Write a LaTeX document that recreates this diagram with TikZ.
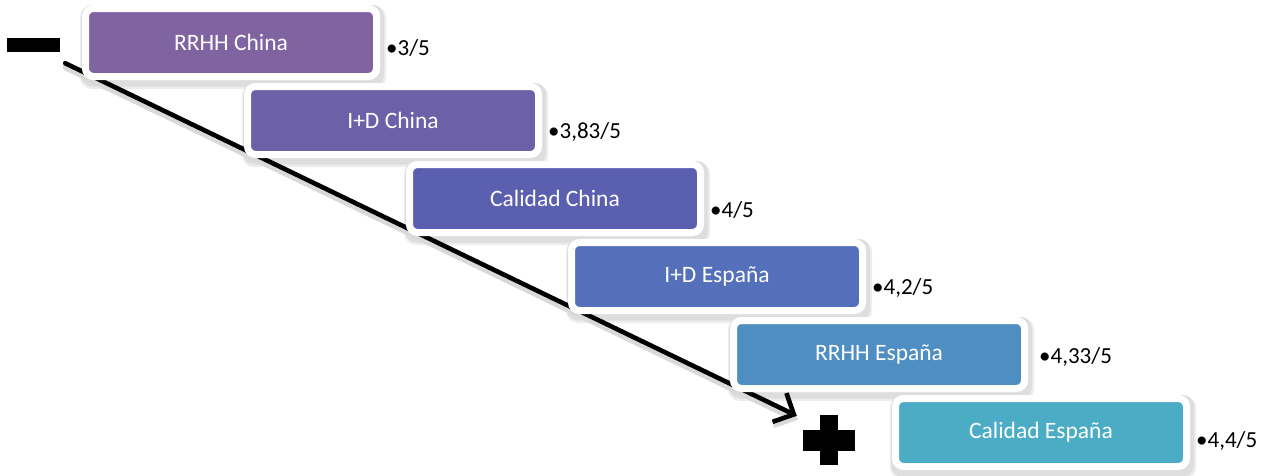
\documentclass[tikz,border=0pt]{standalone}
\usepackage{fontspec}
\setmainfont{Carlito}
\usetikzlibrary{arrows.meta,calc,backgrounds}
\definecolor{cA}{RGB}{128,100,162}
\definecolor{cB}{RGB}{108,96,168}
\definecolor{cC}{RGB}{91,95,175}
\definecolor{cD}{RGB}{84,112,186}
\definecolor{cE}{RGB}{79,142,194}
\definecolor{cF}{RGB}{75,172,198}
\begin{document}
\begin{tikzpicture}[x=1pt,y=-1pt,
  stepbox/.style={rounded corners=8pt, draw=white, line width=7pt,
    minimum width=291pt, minimum height=68pt, inner sep=0pt,
    text=white, font=\fontsize{23.5}{28}\selectfont},
  score/.style={anchor=west, inner sep=0pt, font=\fontsize{23}{27}\selectfont},
  conn/.style={line width=4.6pt, line cap=round, -{Straight Barb[length=16pt,width=32pt,line width=4.6pt]}}
]
\useasboundingbox (0,0) rectangle (1271,475);
% boxes
\node[stepbox, fill=cA] (b1) at (231,42.5) {RRHH China};
\node[stepbox, fill=cB] (b2) at (393,120.5) {I+D China};
\node[stepbox, fill=cC] (b3) at (555,198.5) {Calidad China};
\node[stepbox, fill=cD] (b4) at (717,276.5) {I+D España};
\node[stepbox, fill=cE] (b5) at (879,354.5) {RRHH España};
\node[stepbox, fill=cF] (b6) at (1041,432.5) {Calidad España};
% scores
\node[score] (l1) at (386,48) {•3/5};
\node[score] (l2) at (548,132) {•3,83/5};
\node[score] (l3) at (710,210) {•4/5};
\node[score] (l4) at (872,288) {•4,2/5};
\node[score] (l5) at (1039,357) {•4,33/5};
\node[score] (l6) at (1196,441) {•4,4/5};
% minus and plus
\node[fill=black, minimum width=53pt, minimum height=14pt, inner sep=0pt] (minus) at (33.5,45) {};
\node[fill=black, minimum width=18pt, minimum height=50pt, inner sep=0pt] (plusv) at (829,440) {};
\node[fill=black, minimum width=52pt, minimum height=21pt, inner sep=0pt] (plush) at (829,440.5) {};
\begin{scope}[on background layer]
  \foreach \b in {b1,b2,b3,b4,b5,b6}{
    \fill[black!7, rounded corners=12pt] ([shift={(-2,1)}]\b.north west) rectangle ([shift={(6,9)}]\b.south east);
    \fill[black!13, rounded corners=11pt] ([shift={(-1,0)}]\b.north west) rectangle ([shift={(4,6.5)}]\b.south east);
  }
  \coordinate (astart) at ($(minus.south east)+(5,11)$);
  \coordinate (aend) at ($(plush.north west)+(-6,-14)$);
  \draw[conn, draw=black!15, line width=7pt] ([shift={(1,4)}]astart) -- ([shift={(1,4)}]aend);
  \draw[conn] (astart) -- (aend);
\end{scope}
\end{tikzpicture}
\end{document}
